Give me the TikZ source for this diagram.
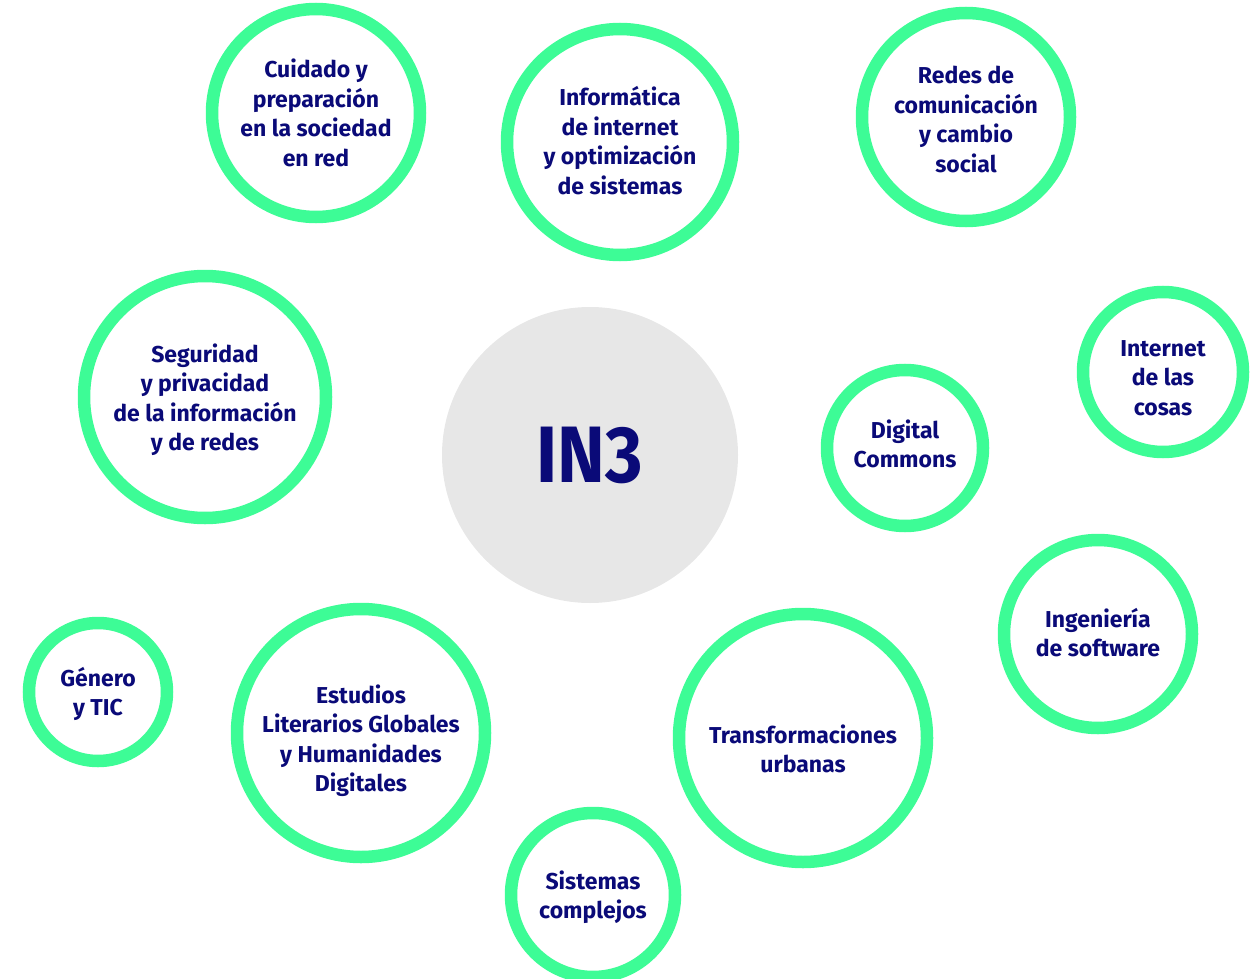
\documentclass[tikz,border=0pt]{standalone}
\usepackage{fontspec}
\setmainfont{Fira Sans}[BoldFont={* Bold}]
\newfontfamily\hubfont{Fira Sans Bold}[FakeStretch=0.9]
\definecolor{ringgreen}{HTML}{3DFC96}
\definecolor{navy}{HTML}{0A0A78}
\definecolor{centergray}{HTML}{E7E7E7}
\tikzset{
  ring/.style={circle, draw=ringgreen, line width=12.5pt, fill=white, inner sep=0pt,
    minimum size=#1},
  ringtext/.style={align=center, text=navy, inner sep=0pt,
    font=\fontsize{23}{29.5}\selectfont\bfseries},
  hub/.style={circle, fill=centergray, inner sep=0pt, minimum size=296pt, text=navy,
    font=\fontsize{80}{80}\selectfont\hubfont}
}
\begin{document}
\begin{tikzpicture}[x=1pt,y=-1pt]
\useasboundingbox (0,0) rectangle (1259,979);
\node[hub] (in3) at (590,455) {IN3};
\node[ring=208pt] (cuidado) at (316,113) {};
\node[ringtext] (cuidado-t) at ([yshift=0pt]cuidado.center) {Cuidado y\\preparación\\en la sociedad\\en red};
\node[ring=226pt] (informatica) at (620,142) {};
\node[ringtext] (informatica-t) at ([yshift=1.5pt]informatica.center) {Informática\\de internet\\y optimización\\de sistemas};
\node[ring=208pt] (redes) at (966,117) {};
\node[ringtext] (redes-t) at ([yshift=-2.5pt]redes.center) {Redes de\\comunicación\\y cambio\\social};
\node[ring=242pt] (seguridad) at (205,397) {};
\node[ringtext] (seguridad-t) at ([yshift=-2.5pt]seguridad.center) {Seguridad\\y privacidad\\de la información\\y de redes};
\node[ring=156pt] (commons) at (905,448) {};
\node[ringtext] (commons-t) at ([yshift=4pt]commons.center) {Digital\\Commons};
\node[ring=160pt] (iot) at (1163,372) {};
\node[ringtext] (iot-t) at ([yshift=-6pt]iot.center) {Internet\\de las\\cosas};
\node[ring=188pt] (software) at (1098,634) {};
\node[ringtext] (software-t) at ([yshift=1.5pt]software.center) {Ingeniería\\de software};
\node[ring=138pt] (genero) at (98,692) {};
\node[ringtext] (genero-t) at ([yshift=-2pt]genero.center) {Género\\y TIC};
\node[ring=248pt] (estudios) at (361,733) {};
\node[ringtext] (estudios-t) at ([yshift=-7.5pt]estudios.center) {Estudios\\Literarios Globales\\y Humanidades\\Digitales};
\node[ring=248pt] (urbanas) at (803,738) {};
\node[ringtext] (urbanas-t) at ([yshift=-11pt]urbanas.center) {Transformaciones\\urbanas};
\node[ring=164pt] (complejos) at (593,895) {};
\node[ringtext] (complejos-t) at ([yshift=-2pt]complejos.center) {Sistemas\\complejos};
\end{tikzpicture}
\end{document}
